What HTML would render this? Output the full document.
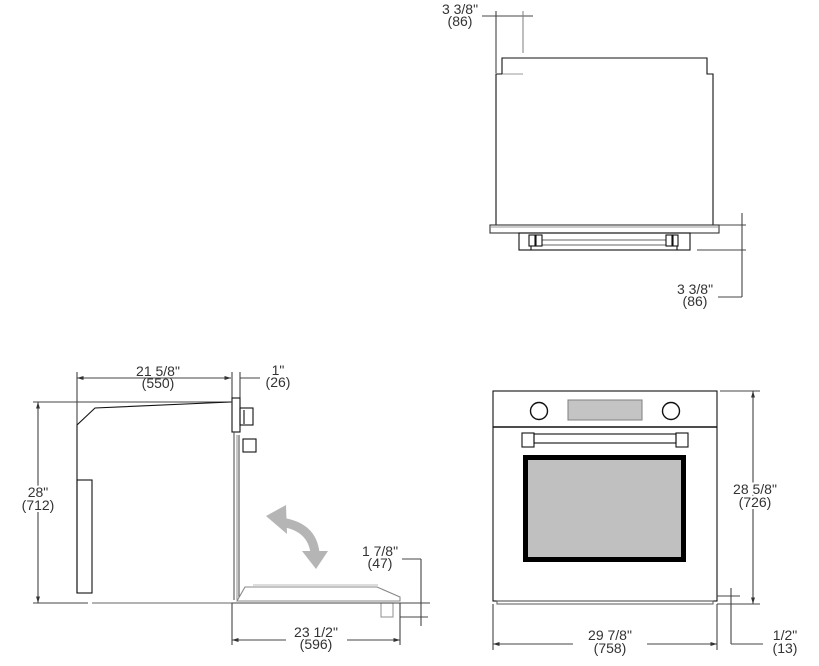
<!DOCTYPE html>
<html><head><meta charset="utf-8"><style>
html,body{margin:0;padding:0;background:#fff;}
svg{display:block;}
text{font-family:"Liberation Sans",sans-serif;font-size:14px;fill:#333;text-anchor:middle;}
</style></head><body>
<svg width="819" height="666" viewBox="0 0 819 666" xmlns="http://www.w3.org/2000/svg">
<defs>
<marker id="a" viewBox="0 0 10 10" refX="10" refY="5" markerWidth="6" markerHeight="6" orient="auto-start-reverse"><path d="M0,2 L10,5 L0,8 z" fill="#333"/></marker>
</defs>
<g fill="none" stroke="#111" stroke-width="1.1">
<!-- TOP VIEW -->
<line x1="482" y1="16" x2="533" y2="16" stroke="#444"/>
<line x1="496" y1="11" x2="496" y2="73" stroke="#444"/>
<line x1="523" y1="11" x2="523" y2="53" stroke="#888"/>
<polyline points="523,74 502,74" stroke="#999"/>
<polyline points="502,74 502,58 707,58 707,74 713,74 713,225"/>
<polyline points="496,225 496,74 502,74"/>
<rect x="490" y="225" width="229" height="8" fill="#fff" stroke="#333"/>
<line x1="491" y1="227" x2="718" y2="227" stroke="#999"/>
<rect x="519" y="233" width="171" height="17"/>
<line x1="542" y1="240" x2="666" y2="240" stroke="#666"/>
<line x1="542" y1="245" x2="666" y2="245" stroke="#666"/>
<rect x="529" y="235" width="6" height="11"/><rect x="536" y="235" width="6" height="11"/>
<rect x="666" y="235" width="6" height="11"/><rect x="673" y="235" width="5" height="11"/>
<line x1="531" y1="246" x2="531" y2="250"/><line x1="677" y1="246" x2="677" y2="250"/>
<line x1="742" y1="213" x2="742" y2="297" stroke="#444"/>
<line x1="719" y1="225" x2="746" y2="225" stroke="#444"/>
<line x1="697" y1="250" x2="746" y2="250" stroke="#444"/>
<line x1="718" y1="297" x2="742" y2="297" stroke="#444"/>

<!-- SIDE VIEW -->
<line x1="77" y1="378" x2="231" y2="378" stroke="#444" marker-start="url(#a)" marker-end="url(#a)"/>
<line x1="77" y1="372" x2="77" y2="425" stroke="#444"/>
<line x1="232" y1="372" x2="232" y2="398" stroke="#444"/>
<line x1="240" y1="372" x2="240" y2="398" stroke="#444"/>
<line x1="240" y1="378" x2="260" y2="378" stroke="#444"/>
<line x1="38" y1="402" x2="38" y2="603" stroke="#444" marker-start="url(#a)" marker-end="url(#a)"/>
<line x1="33" y1="402" x2="232" y2="402" stroke="#444"/>
<line x1="33" y1="603" x2="88" y2="603" stroke="#444"/>
<polyline points="77,593 77,425 95,408 231,402"/>
<rect x="77" y="480" width="15" height="113"/>
<line x1="92" y1="603" x2="232" y2="603" stroke="#666"/>
<rect x="232" y="398" width="8" height="34"/>
<rect x="240" y="408" width="13" height="17"/>
<rect x="243" y="439" width="13" height="13"/>
<line x1="244" y1="410" x2="244" y2="424"/>
<line x1="234" y1="432" x2="234" y2="600" stroke="#555"/>
<line x1="237" y1="435" x2="237" y2="600" stroke="#999"/>
<line x1="239" y1="435" x2="239" y2="600" stroke="#555"/>
<polygon points="245,587 377,587 400,597 400,601 237,601" stroke="#888" fill="#fff"/>
<line x1="253" y1="585" x2="378" y2="585" stroke="#bbb"/>
<rect x="381" y="603" width="12" height="14" stroke="#999"/>
<line x1="232" y1="603" x2="430" y2="603" stroke="#444"/>
<line x1="402" y1="559" x2="421" y2="559" stroke="#444"/>
<line x1="421" y1="559" x2="421" y2="626" stroke="#444"/>
<line x1="400" y1="617" x2="428" y2="617" stroke="#444"/>
<line x1="232" y1="603" x2="232" y2="645" stroke="#444"/>
<line x1="400" y1="603" x2="400" y2="645" stroke="#444"/>
<line x1="232" y1="640" x2="286" y2="640" stroke="#444" marker-start="url(#a)"/>
<line x1="347" y1="640" x2="400" y2="640" stroke="#444" marker-end="url(#a)"/>

<!-- FRONT VIEW -->
<rect x="493" y="391" width="224" height="210"/>
<line x1="493" y1="427" x2="717" y2="427" stroke-width="1.6"/>
<circle cx="539" cy="411" r="8.5" stroke-width="1.4"/>
<circle cx="671" cy="411" r="8.5" stroke-width="1.4"/>
<rect x="568" y="400" width="74" height="20" fill="#c4c4c4" stroke="#888"/>
<rect x="522" y="433" width="12" height="14"/>
<rect x="676" y="433" width="12" height="14"/>
<rect x="534" y="434" width="142" height="9"/>
<rect x="525.5" y="457.5" width="158" height="102" fill="#c0c0c0" stroke="#000" stroke-width="5"/>
<rect x="497" y="601" width="216" height="3" stroke="#666"/>
<line x1="753" y1="391" x2="753" y2="604" stroke="#444" marker-start="url(#a)" marker-end="url(#a)"/>
<line x1="720" y1="391" x2="760" y2="391" stroke="#444"/>
<line x1="717" y1="604" x2="760" y2="604" stroke="#444"/>
<line x1="717" y1="596" x2="740" y2="596" stroke="#444"/>
<line x1="731" y1="588" x2="731" y2="644" stroke="#444"/>
<line x1="731" y1="644" x2="763" y2="644" stroke="#444"/>
<line x1="493" y1="604" x2="493" y2="650" stroke="#444"/>
<line x1="717" y1="604" x2="717" y2="650" stroke="#444"/>
<line x1="493" y1="644" x2="573" y2="644" stroke="#444" marker-start="url(#a)"/>
<line x1="647" y1="644" x2="717" y2="644" stroke="#444" marker-end="url(#a)"/>
</g>
<!-- curved arrow -->
<path d="M280,522 Q312,526 315,553" fill="none" stroke="#b5b5b5" stroke-width="9"/>
<polygon points="266,516 286,505 287,534" fill="#b5b5b5"/>
<polygon points="302,551 328,551 316,569" fill="#b5b5b5"/>
<!-- TEXT -->
<text x="460" y="14">3 3/8"</text><text x="460" y="26">(86)</text>
<text x="695" y="294">3 3/8"</text><text x="695" y="306">(86)</text>
<text x="158" y="376">21 5/8"</text><text x="158" y="388">(550)</text>
<text x="278" y="375">1"</text><text x="278" y="387">(26)</text>
<text x="38" y="497" style="paint-order:stroke" stroke="#fff" stroke-width="4">28"</text><text x="38" y="510" stroke="#fff" stroke-width="4" style="paint-order:stroke">(712)</text>
<text x="380" y="556">1 7/8"</text><text x="380" y="568">(47)</text>
<text x="316" y="637">23 1/2"</text><text x="316" y="649">(596)</text>
<text x="755" y="494" stroke="#fff" stroke-width="4" style="paint-order:stroke">28 5/8"</text><text x="755" y="507" stroke="#fff" stroke-width="4" style="paint-order:stroke">(726)</text>
<text x="785" y="640">1/2"</text><text x="785" y="653">(13)</text>
<text x="610" y="640">29 7/8"</text><text x="610" y="653">(758)</text>
</svg>
</body></html>
